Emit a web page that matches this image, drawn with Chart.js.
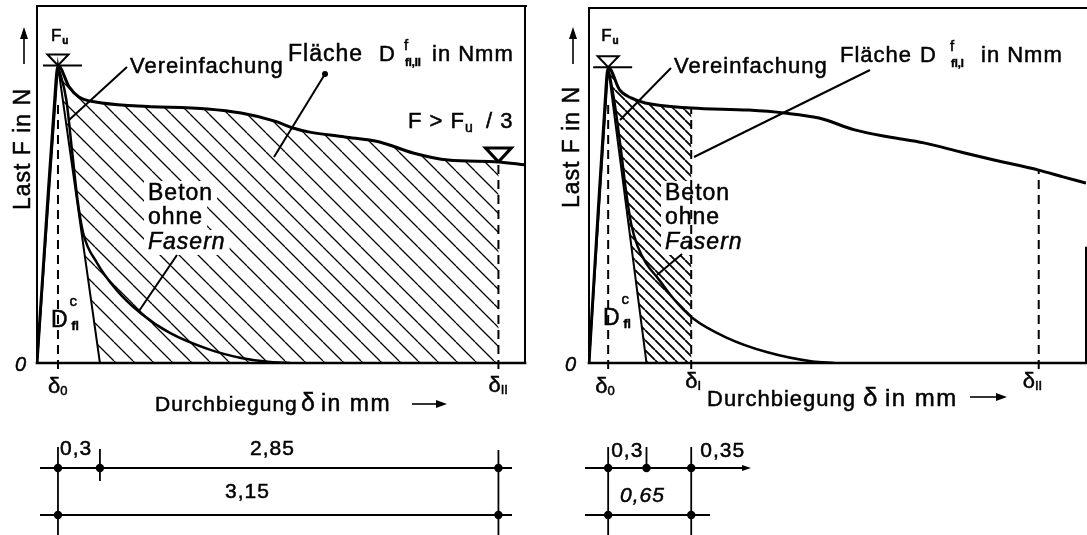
<!DOCTYPE html>
<html>
<head>
<meta charset="utf-8">
<script src="https://cdn.jsdelivr.net/npm/chart.js@4.4.1/dist/chart.umd.min.js"></script>
<style>
  html, body { margin: 0; padding: 0; background: #fff; overflow: hidden; }
  #wrap { position: relative; width: 1087px; height: 535px; }
  #wrap canvas { position: absolute; top: 0; }
</style>
</head>
<body>
<div id="wrap">
  <canvas id="left" width="545" height="535" style="left:0"></canvas>
  <canvas id="right" width="542" height="535" style="left:545px"></canvas>
</div>
<script>
// Durchbiegung delta in mm, Last F in % von Fu
const delta0 = 0.15;
const peakLoad = 100;
const stepsLeft = [0.3, 2.85];    // delta0 -> +0,3 -> deltaII
const stepsRight = [0.3, 0.35];   // delta0 -> +0,3 -> deltaI
const deltaIIRight = 3.52;

// Faserbeton, Versuch links
const fibreLeftX = [0, 0.07, 0.12, 0.15, 0.23, 0.30, 0.42, 0.72, 1.22, 1.46, 1.70, 1.83, 1.95, 2.20, 2.45, 2.69, 2.94, 3.30, 3.49];
const fibreLeftY = [0, 50, 84, 100, 92.8, 89.4, 87.7, 86.4, 85.4, 84.0, 81.3, 79.0, 77.6, 76.0, 74.3, 70.6, 68.2, 67.6, 66.6];
// Beton ohne Fasern, links
const plainLeftX = [0.15, 0.21, 0.25, 0.29, 0.33, 0.43, 0.57, 0.74, 0.95, 1.24, 1.46, 1.67, 1.81];
const plainLeftY = [100, 88.4, 71.6, 54.8, 43.7, 33.6, 24.5, 16.8, 10.1, 4.4, 1.7, 0.3, 0];

// Faserbeton, Versuch rechts
const fibreRightX = [0, 0.07, 0.12, 0.15, 0.24, 0.33, 0.44, 0.80, 1.25, 1.53, 1.80, 2.08, 2.35, 2.62, 2.91, 3.17, 3.52, 3.71, 3.89];
const fibreRightY = [0, 50, 84, 100, 92.3, 89.6, 87.9, 86.2, 85.5, 84.5, 82.8, 78.8, 76.4, 74.4, 71.3, 68.6, 65.2, 62.9, 60.8];
// Beton ohne Fasern, rechts
const plainRightX = [0.15, 0.20, 0.25, 0.29, 0.33, 0.38, 0.45, 0.54, 0.66, 0.81, 1.08, 1.39, 1.75, 1.92];
const plainRightY = [100, 88, 72, 58, 47, 39.5, 33.5, 28.6, 21.8, 15.2, 8.5, 3.7, 0.5, 0];

const FONT = '"Liberation Sans", Arial, Helvetica, sans-serif';

const pts = (xs, ys) => xs.map((x, i) => ({ x: x, y: ys[i] }));
const fmt = v => v.toFixed(2).replace(/0$/, '').replace('.', ',');

function valueAt(xs, ys, v) {
  for (let i = 1; i < xs.length; i++) {
    if (v <= xs[i]) {
      const t = (v - xs[i - 1]) / (xs[i] - xs[i - 1]);
      return ys[i - 1] + t * (ys[i] - ys[i - 1]);
    }
  }
  return ys[ys.length - 1];
}

function hatch(step, w) {
  const c = document.createElement('canvas');
  c.width = c.height = step;
  const g = c.getContext('2d');
  g.strokeStyle = '#000';
  g.lineWidth = w;
  g.beginPath();
  for (let k = -1; k <= 1; k++) {
    g.moveTo(k * step, 0);
    g.lineTo(k * step + step, step);
  }
  g.stroke();
  return g.createPattern(c, 'repeat');
}

function curve(xs, ys, w) {
  return {
    data: pts(xs, ys), borderColor: '#000', borderWidth: w, pointRadius: 0,
    fill: false, cubicInterpolationMode: 'monotone', order: 1
  };
}

function triangle(foot) {
  return {
    data: [{ x: 0, y: 0 }, { x: delta0, y: peakLoad }, { x: foot, y: 0 }],
    borderColor: '#000', borderWidth: 2, pointRadius: 0, fill: false, tension: 0, order: 0
  };
}

// schraffierte Flaeche zwischen Dreieck, Kurve und Grenzdurchbiegung
function area(xs, ys, foot, end, pattern) {
  const top = pts(xs, ys).filter(p => p.x > delta0 && p.x < end);
  const data = [{ x: delta0, y: peakLoad }].concat(top,
    [{ x: end, y: valueAt(xs, ys, end) }, { x: end, y: 0 }, { x: foot, y: 0 }]);
  return {
    data: data, borderWidth: 0, borderColor: 'rgba(0,0,0,0)', pointRadius: 0,
    backgroundColor: pattern, fill: 'shape', tension: 0, order: 5
  };
}

// --- Zeichenhilfen ---
function seg(ctx, p, w, dash) {
  ctx.beginPath();
  ctx.lineWidth = w;
  ctx.setLineDash(dash || []);
  p.forEach((q, i) => i ? ctx.lineTo(q[0], q[1]) : ctx.moveTo(q[0], q[1]));
  ctx.stroke();
  ctx.setLineDash([]);
}

function dot(ctx, x, y, r) {
  ctx.beginPath();
  ctx.arc(x, y, r, 0, Math.PI * 2);
  ctx.fill();
}

function txt(ctx, s, x, y, size, style, spacing) {
  ctx.font = (style || '') + ' ' + size + 'px ' + FONT;
  ctx.letterSpacing = (spacing === undefined ? 1 : spacing) + 'px';
  ctx.textAlign = 'left';
  ctx.textBaseline = 'alphabetic';
  ctx.fillText(s, x, y);
  ctx.lineWidth = 0.5;
  ctx.strokeText(s, x, y);
  return x + ctx.measureText(s).width;
}

function downTri(ctx, x, y, w, h, lw) {
  ctx.lineJoin = 'miter';
  seg(ctx, [[x, y], [x - w / 2, y - h], [x + w / 2, y - h], [x, y]], lw);
}

function arrowRight(ctx, x0, x1, y) {
  seg(ctx, [[x0, y], [x1 - 8, y]], 1.6);
  ctx.beginPath();
  ctx.moveTo(x1, y); ctx.lineTo(x1 - 11, y - 4); ctx.lineTo(x1 - 11, y + 4);
  ctx.closePath(); ctx.fill();
}

function arrowUp(ctx, x, y0, y1) {
  seg(ctx, [[x, y0], [x, y1 + 8]], 1.6);
  ctx.beginPath();
  ctx.moveTo(x, y1); ctx.lineTo(x - 4, y1 + 12); ctx.lineTo(x + 4, y1 + 12);
  ctx.closePath(); ctx.fill();
}

function yTitle(ctx, x, yc) {
  ctx.save();
  ctx.translate(x, yc);
  ctx.rotate(-Math.PI / 2);
  ctx.font = '23px ' + FONT;
  ctx.letterSpacing = '1px';
  ctx.textAlign = 'center';
  ctx.textBaseline = 'middle';
  ctx.fillText('Last F in N', 0, 0);
  ctx.lineWidth = 0.5;
  ctx.strokeText('Last F in N', 0, 0);
  ctx.restore();
  arrowUp(ctx, x, 64, 27);
}

function fuMark(ctx, x, y) {
  downTri(ctx, x, y, 21, 11, 2);
  seg(ctx, [[x - 15, y], [x + 24, y]], 2);
  const e = txt(ctx, 'F', x - 7, 41, 17, '', 0);
  txt(ctx, 'u', e + 1, 44, 10, 'bold', 0);
}

function deltaLabel(ctx, x, y, sub) {
  const e = txt(ctx, 'δ', x, y, 22, '', 0);
  txt(ctx, sub, e, y + 2, 13, '', 0);
}

function dcfl(ctx, x, y) {
  const e = txt(ctx, 'D', x, y, 23, '', 0);
  txt(ctx, 'c', e + 2, y - 21, 15, '', 0);
  txt(ctx, 'fl', e + 4, y + 3, 12, 'bold', 0);
}

// Beschriftung auf weissem Grund, damit die Schraffur ausgespart wird
function betonLabel(ctx, x) {
  const lines = [['Beton', 200, ''], ['ohne', 224, ''], ['Fasern', 249, 'italic']];
  lines.forEach(l => {
    ctx.font = l[2] + ' 23px ' + FONT;
    ctx.letterSpacing = '1px';
    const w = ctx.measureText(l[0]).width;
    ctx.fillStyle = '#fff';
    ctx.fillRect(x - 4, l[1] - 19, w + 8, 25);
    ctx.fillStyle = '#000';
  });
  lines.forEach(l => txt(ctx, l[0], x, l[1], 23, l[2]));
}

function frame(ctx, a, rightFrom) {
  ctx.lineCap = 'square';
  seg(ctx, [[a.left, a.bottom], [a.left, a.top], [a.right + 1, a.top]], 2);
  seg(ctx, [[a.right, rightFrom], [a.right, a.bottom]], 2);
  seg(ctx, [[a.left, a.bottom], [a.right, a.bottom]], 2.6);
  ctx.lineCap = 'butt';
}

function dimRow(ctx, xs, y, x0, x1) {
  seg(ctx, [[x0, y], [x1, y]], 1.8);
  xs.forEach(x => dot(ctx, x, y, 4.2));
}

const leftDraw = {
  id: 'leftDraw',
  afterDatasetsDraw(chart) {
    const ctx = chart.ctx, a = chart.chartArea;
    const px = v => chart.scales.x.getPixelForValue(v);
    const py = v => chart.scales.y.getPixelForValue(v);
    const foot = delta0 + stepsLeft[0];
    const dII = foot + stepsLeft[1];
    const fII = valueAt(fibreLeftX, fibreLeftY, dII);
    ctx.save();
    ctx.fillStyle = ctx.strokeStyle = '#000';
    frame(ctx, a, a.top);

    betonLabel(ctx, 148);
    seg(ctx, [[177, 255], [139, 311]], 2);

    seg(ctx, [[px(delta0), py(0) + 6], [px(delta0), py(88)]], 2, [9, 6]);
    seg(ctx, [[px(dII), py(0) + 6], [px(dII), py(fII)]], 2, [9, 6]);

    fuMark(ctx, px(delta0), py(peakLoad));
    downTri(ctx, px(dII), py(fII), 26, 14, 3);
    yTitle(ctx, 24, 149);

    txt(ctx, 'Vereinfachung', 130, 73, 22);
    seg(ctx, [[127, 67], [69, 120]], 2);

    txt(ctx, 'Fläche', 288, 61, 23);
    txt(ctx, 'D', 379, 61, 22);
    txt(ctx, 'f', 404, 50, 15, '', 0);
    txt(ctx, 'fl,II', 405, 66, 11, 'bold', 0);
    txt(ctx, 'in Nmm', 432, 61, 22);
    dot(ctx, 325, 74, 3);
    seg(ctx, [[325, 74], [274, 157]], 2);

    const e = txt(ctx, 'F > F', 408, 128, 22);
    txt(ctx, 'u', e, 132, 14, '', 0);
    txt(ctx, '/ 3', 486, 128, 22);

    dcfl(ctx, 51, 327);

    txt(ctx, '0', 15, 371, 20, 'italic', 0);
    deltaLabel(ctx, px(delta0) - 10, 393, '0');
    deltaLabel(ctx, px(dII) - 10, 392, 'II');

    txt(ctx, 'Durchbiegung', 155, 411, 21);
    txt(ctx, 'δ', 301, 411, 25, '', 0);
    txt(ctx, 'in mm', 321, 411, 23, '', 1.5);
    arrowRight(ctx, 412, 447, 404);

    // Bemassung
    const x0 = px(delta0), x1 = px(foot), x2 = px(dII);
    seg(ctx, [[x0, 447], [x0, 535]], 1.8);
    seg(ctx, [[x1, 449], [x1, 481]], 1.8);
    seg(ctx, [[x2, 450], [x2, 535]], 1.8);
    dimRow(ctx, [x0, x1, x2], 468, 40, 512);
    dimRow(ctx, [x0, x2], 515, 40, 512);
    txt(ctx, fmt(stepsLeft[0]), x0 + 2, 455, 21);
    txt(ctx, fmt(stepsLeft[1]), 250, 455, 21);
    txt(ctx, fmt(stepsLeft[0] + stepsLeft[1]), 225, 498, 21);
    ctx.restore();
  }
};

const rightDraw = {
  id: 'rightDraw',
  afterDatasetsDraw(chart) {
    const ctx = chart.ctx, a = chart.chartArea;
    const px = v => chart.scales.x.getPixelForValue(v);
    const py = v => chart.scales.y.getPixelForValue(v);
    const foot = delta0 + stepsRight[0];
    const dI = foot + stepsRight[1];
    const fI = valueAt(fibreRightX, fibreRightY, dI);
    const fII = valueAt(fibreRightX, fibreRightY, deltaIIRight);
    ctx.save();
    ctx.fillStyle = ctx.strokeStyle = '#000';
    frame(ctx, a, py(39));

    betonLabel(ctx, 120);
    seg(ctx, [[137, 254], [112, 275]], 2);

    seg(ctx, [[px(delta0), py(0) + 6], [px(delta0), py(88)]], 2, [9, 6]);
    seg(ctx, [[px(dI), py(0) + 6], [px(dI), py(fI)]], 2, [9, 6]);
    seg(ctx, [[px(deltaIIRight), py(0) + 6], [px(deltaIIRight), py(fII)]], 2, [9, 6]);

    fuMark(ctx, px(delta0), py(peakLoad));
    yTitle(ctx, 28, 147);

    txt(ctx, 'Vereinfachung', 129, 73, 22);
    seg(ctx, [[126, 68], [75, 120]], 2);

    txt(ctx, 'Fläche', 295, 62, 22);
    txt(ctx, 'D', 375, 62, 22);
    txt(ctx, 'f', 405, 51, 15, '', 0);
    txt(ctx, 'fl,I', 406, 67, 11, 'bold', 0);
    txt(ctx, 'in Nmm', 436, 62, 22);
    seg(ctx, [[325, 70], [149, 157]], 2);

    dcfl(ctx, 58, 325);

    txt(ctx, '0', 20, 371, 20, 'italic', 0);
    deltaLabel(ctx, px(delta0) - 13, 393, '0');
    deltaLabel(ctx, px(dI) - 6, 388, 'I');
    deltaLabel(ctx, px(deltaIIRight) - 16, 388, 'II');

    txt(ctx, 'Durchbiegung', 162, 406, 22);
    txt(ctx, 'δ', 318, 406, 26, '', 0);
    txt(ctx, 'in mm', 340, 406, 24, '', 1.5);
    arrowRight(ctx, 425, 462, 397);

    // Bemassung
    const x0 = px(delta0), x1 = px(foot), x2 = px(dI);
    seg(ctx, [[x0, 447], [x0, 535]], 1.8);
    seg(ctx, [[x1, 447], [x1, 468]], 1.8);
    seg(ctx, [[x2, 447], [x2, 535]], 1.8);
    dimRow(ctx, [x0, x1, x2], 468, 40, 200);
    ctx.beginPath();
    ctx.moveTo(206, 468); ctx.lineTo(197, 465); ctx.lineTo(197, 471); ctx.closePath(); ctx.fill();
    dimRow(ctx, [x0, x2], 515, 40, 165);
    txt(ctx, fmt(stepsRight[0]), x0 + 3, 457, 21);
    txt(ctx, fmt(stepsRight[1]), x2 + 9, 457, 21);
    txt(ctx, fmt(stepsRight[0] + stepsRight[1]), 75, 502, 21, 'italic');
    ctx.restore();
  }
};

function baseOptions(pad, xMax) {
  return {
    responsive: false,
    animation: false,
    layout: { padding: pad },
    scales: {
      x: { type: 'linear', min: 0, max: xMax, display: false },
      y: { type: 'linear', min: 0, max: 120, display: false }
    },
    plugins: { legend: { display: false }, tooltip: { enabled: false } }
  };
}

const footL = delta0 + stepsLeft[0];
new Chart(document.getElementById('left'), {
  type: 'line',
  data: {
    datasets: [
      triangle(footL),
      curve(fibreLeftX, fibreLeftY, 3),
      curve(plainLeftX, plainLeftY, 2.5),
      area(fibreLeftX, fibreLeftY, footL, footL + stepsLeft[1], hatch(19, 1.3))
    ]
  },
  options: baseOptions({ left: 37, right: 20, top: 6, bottom: 172 }, 3.49),
  plugins: [leftDraw]
});

const footR = delta0 + stepsRight[0];
new Chart(document.getElementById('right'), {
  type: 'line',
  data: {
    datasets: [
      triangle(footR),
      curve(fibreRightX, fibreRightY, 3),
      curve(plainRightX, plainRightY, 2.5),
      area(fibreRightX, fibreRightY, footR, footR + stepsRight[1], hatch(10, 1.8))
    ]
  },
  options: baseOptions({ left: 44, right: 1, top: 8, bottom: 172 }, 3.89),
  plugins: [rightDraw]
});
</script>
</body>
</html>
